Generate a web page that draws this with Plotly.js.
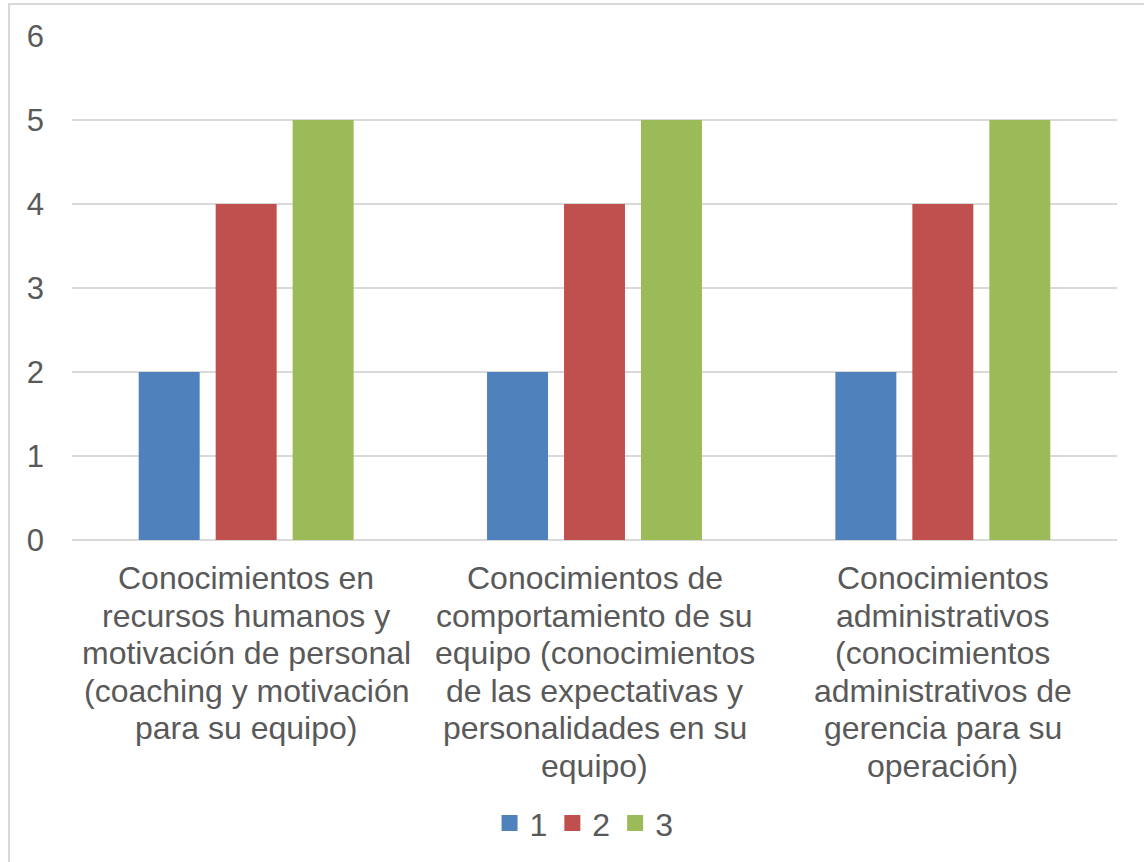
<!DOCTYPE html>
<html>
<head>
<meta charset="utf-8">
<script src="https://cdn.plot.ly/plotly-3.0.1.min.js"></script>
<style>
  html, body { margin: 0; padding: 0; background: #ffffff; }
  #frame { position: absolute; left: 8px; top: 3px; width: 1200px; height: 900px;
           border-left: 2px solid #d9d9d9; border-top: 2px solid #d9d9d9; pointer-events: none; }
  #chart { position: absolute; left: 0; top: 0; width: 1144px; height: 862px; }
</style>
</head>
<body>
<div id="chart"></div>
<div id="frame"></div>
<script>
// Knowledge areas (axis categories); <br> marks the wrapped lines of each label
const categories = [
  "Conocimientos en<br>recursos humanos y<br>motivación de personal<br>(coaching y motivación<br>para su equipo)",
  "Conocimientos de<br>comportamiento de su<br>equipo (conocimientos<br>de las expectativas y<br>personalidades en su<br>equipo)",
  "Conocimientos<br>administrativos<br>(conocimientos<br>administrativos de<br>gerencia para su<br>operación)"
];

// Series names and values
const seriesNames = ["1", "2", "3"];
const series1 = [2, 2, 2];
const series2 = [4, 4, 4];
const series3 = [5, 5, 5];

const colors = ["#4f81bd", "#c0504d", "#9bbb59"];
const values = [series1, series2, series3];

const font = { family: "Liberation Sans, Arial, sans-serif", size: 32, color: "#595959" };
const LABEL_FIRST = 38;     // px from the axis to the centre of a label's first line
const LABEL_LEADING = 37.6; // px between wrapped label lines

// The bars themselves
const barTraces = values.map((v, i) => ({
  type: "bar",
  name: seriesNames[i],
  legendgroup: seriesNames[i],
  showlegend: false,
  x: categories,
  y: v,
  marker: { color: colors[i], line: { width: 0 } },
  hoverinfo: "y+name"
}));

// Legend keys: square swatches linked to each bar series
const keyTraces = seriesNames.map((n, i) => ({
  type: "scatter",
  mode: "markers",
  name: n,
  legendgroup: n,
  x: [null],
  y: [null],
  marker: { symbol: "square", size: 16, color: colors[i] },
  hoverinfo: "skip"
}));

// Category labels, one annotation per wrapped line for tighter leading
const labelAnnotations = [];
categories.forEach(cat => {
  cat.split("<br>").forEach((line, k) => {
    labelAnnotations.push({
      xref: "x", yref: "paper",
      x: cat, y: 0,
      xanchor: "center", yanchor: "middle",
      yshift: -(LABEL_FIRST + k * LABEL_LEADING),
      text: line,
      showarrow: false,
      font: font
    });
  });
});

const layout = {
  width: 1144,
  height: 862,
  paper_bgcolor: "rgba(0,0,0,0)",
  plot_bgcolor: "rgba(0,0,0,0)",
  margin: { l: 72, r: 27, t: 36, b: 319 },
  font: font,
  barmode: "group",
  bargap: 0.337,
  bargroupgap: 0.208,
  showlegend: true,
  legend: {
    orientation: "h",
    x: 0.49, xanchor: "center",
    y: -0.562, yanchor: "middle",
    font: font,
    itemwidth: 30,
    itemgap: 13,
    tracegroupgap: 0
  },
  annotations: labelAnnotations,
  xaxis: {
    type: "category",
    showgrid: false,
    showline: false,
    zeroline: false,
    ticks: "",
    showticklabels: false,
    automargin: false
  },
  yaxis: {
    range: [0, 6],
    dtick: 1,
    showgrid: true,
    gridcolor: "#d9d9d9",
    gridwidth: 1.5,
    zeroline: true,
    zerolinecolor: "#d9d9d9",
    zerolinewidth: 1.5,
    showline: false,
    ticks: "",
    ticklabelstandoff: 27,
    tickfont: { family: font.family, size: 31, color: font.color },
    automargin: false
  }
};

Plotly.newPlot("chart", barTraces.concat(keyTraces), layout, { displayModeBar: false });
</script>
</body>
</html>
